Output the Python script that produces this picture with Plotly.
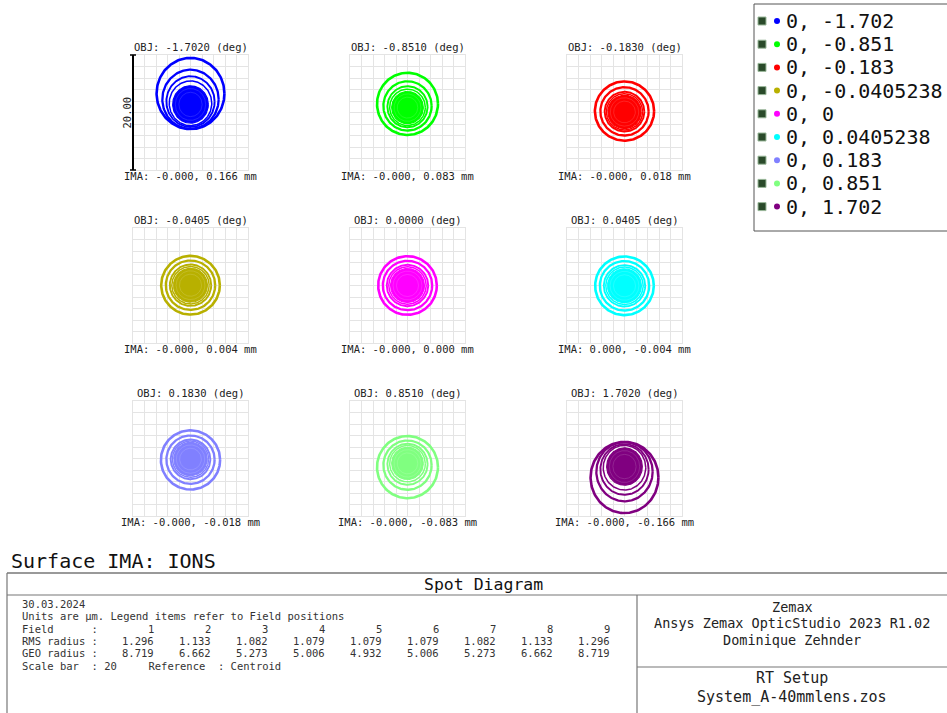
import numpy as np
import plotly.graph_objects as go

W, H = 947, 713

# ---------------- data ----------------
field_y_deg = [-1.702, -0.851, -0.183, -0.0405238, 0.0, 0.0405238, 0.183, 0.851, 1.702]
legend_labels = ["0, -1.702", "0, -0.851", "0, -0.183", "0, -0.0405238", "0, 0",
                 "0, 0.0405238", "0, 0.183", "0, 0.851", "0, 1.702"]
obj_labels = ["-1.7020", "-0.8510", "-0.1830", "-0.0405", "0.0000",
              "0.0405", "0.1830", "0.8510", "1.7020"]
ima_x = ["-0.000", "-0.000", "-0.000", "-0.000", "-0.000", "0.000", "-0.000", "-0.000", "-0.000"]
ima_y = ["0.166", "0.083", "0.018", "0.004", "0.000", "-0.004", "-0.018", "-0.083", "-0.166"]
field_colors = ["#0000ff", "#00ff00", "#ff0000", "#b8b000", "#ff00ff",
                "#00ffff", "#8080ff", "#80ff80", "#800080"]
field_numbers = ["1", "2", "3", "4", "5", "6", "7", "8", "9"]
rms_radius = ["1.296", "1.133", "1.082", "1.079", "1.079", "1.079", "1.082", "1.133", "1.296"]
geo_radius = ["8.719", "6.662", "5.273", "5.006", "4.932", "5.006", "5.273", "6.662", "8.719"]
scale_bar_um = 20

# spot ring radii (um), outer -> inner (last entry = dense core)
ring_radii = [
    [5.9, 4.9, 4.2, 3.7, 3.1],
    [5.3, 4.2, 3.5, 3.1, 2.75],
    [5.15, 4.2, 3.45, 3.15, 2.9],
    [5.1, 4.3, 3.6, 3.25, 2.95],
    [5.1, 4.3, 3.6, 3.25, 2.95],
    [5.1, 4.3, 3.6, 3.25, 2.95],
    [5.15, 4.2, 3.45, 3.15, 2.9],
    [5.3, 4.2, 3.5, 3.1, 2.75],
    [5.9, 4.9, 4.2, 3.7, 3.1],
]
# vertical centre of each ring relative to the chief ray (um)
ring_y_center = [
    [3.3, 2.3, 1.9, 1.6, 1.4],
    [1.5, 1.15, 1.0, 0.9, 0.85],
    [0.25, 0.2, 0.15, 0.12, 0.1],
    [0.05, 0.05, 0.05, 0.05, 0.05],
    [0.0, 0.0, 0.0, 0.0, 0.0],
    [-0.05, -0.05, -0.05, -0.05, -0.05],
    [-0.25, -0.2, -0.15, -0.12, -0.1],
    [-1.5, -1.15, -1.0, -0.9, -0.85],
    [-3.3, -2.3, -1.9, -1.6, -1.4],
]
ring_y_stretch = [1.05, 1.02, 1.0, 1.0, 1.0, 1.0, 1.0, 1.02, 1.05]

# ---------------- layout helpers ----------------
def px(x):
    return x / W

def py(y):
    return 1 - y / H

FONT = "DejaVu Sans Mono"
col_left = [133, 350, 567]
row_top = [55, 228, 401]
SZ = 115
ring_widths = [2.6, 2.3, 1.9, 1.5]
GRID = "#e4e4e4"

fig = go.Figure()
annotations = []
shapes = []
t = np.linspace(0, 2 * np.pi, 181)
half = scale_bar_um / 2

for i in range(9):
    r, c = divmod(i, 3)
    ax = "" if i == 0 else str(i + 1)
    xa, ya = "x" + ax, "y" + ax
    x0, y0 = col_left[c], row_top[r]
    fig.layout["xaxis" + ax] = dict(
        domain=[px(x0), px(x0 + SZ)], range=[-half, half], anchor=ya,
        showgrid=True, gridcolor=GRID, gridwidth=1, dtick=2, tick0=0,
        zeroline=False, showticklabels=False, ticks="",
        showline=True, linecolor=GRID, mirror=True, fixedrange=True)
    fig.layout["yaxis" + ax] = dict(
        domain=[py(y0 + SZ), py(y0)], range=[-half, half], anchor=xa,
        showgrid=True, gridcolor=GRID, gridwidth=1, dtick=2, tick0=0,
        zeroline=False, showticklabels=False, ticks="",
        showline=True, linecolor=GRID, mirror=True, fixedrange=True)
    col = field_colors[i]
    radii = ring_radii[i]
    cents = ring_y_center[i]
    st = ring_y_stretch[i]
    # dense core
    fig.add_trace(go.Scatter(
        x=radii[-1] * np.cos(t), y=cents[-1] + radii[-1] * st * np.sin(t),
        mode="lines", fill="toself", fillcolor=col, line=dict(color=col, width=1.2),
        xaxis=xa, yaxis=ya, showlegend=False, hoverinfo="skip"))
    # faint inner structure of the core
    for k in (0.85, 0.65):
        fig.add_trace(go.Scatter(
            x=radii[-1] * k * np.cos(t), y=cents[-1] + radii[-1] * k * st * np.sin(t),
            mode="lines", line=dict(color="rgba(255,255,255,0.2)", width=0.7),
            xaxis=xa, yaxis=ya, showlegend=False, hoverinfo="skip"))
    # rings
    for j in range(len(radii) - 1):
        fig.add_trace(go.Scatter(
            x=radii[j] * np.cos(t), y=cents[j] + radii[j] * st * np.sin(t),
            mode="lines", line=dict(color=col, width=ring_widths[j]),
            xaxis=xa, yaxis=ya, showlegend=False, hoverinfo="skip"))
    cx = x0 + SZ / 2
    annotations.append(dict(x=px(cx), y=py(y0 - 8), xref="paper", yref="paper",
                            text=f"OBJ: {obj_labels[i]} (deg)", showarrow=False,
                            xanchor="center", yanchor="middle",
                            font=dict(family=FONT, size=10.5, color="#222")))
    annotations.append(dict(x=px(cx), y=py(y0 + SZ + 6), xref="paper", yref="paper",
                            text=f"IMA: {ima_x[i]}, {ima_y[i]} mm", showarrow=False,
                            xanchor="center", yanchor="middle",
                            font=dict(family=FONT, size=10.5, color="#222")))

# scale bar on first panel
sb_x = col_left[0]
shapes.append(dict(type="line", xref="paper", yref="paper", x0=px(sb_x), x1=px(sb_x),
                   y0=py(row_top[0]), y1=py(row_top[0] + SZ), line=dict(color="black", width=2)))
for yy in (row_top[0], row_top[0] + SZ):
    shapes.append(dict(type="line", xref="paper", yref="paper", x0=px(sb_x - 3), x1=px(sb_x + 3),
                       y0=py(yy), y1=py(yy), line=dict(color="black", width=1.5)))
annotations.append(dict(x=px(sb_x - 7), y=py(row_top[0] + SZ / 2), xref="paper", yref="paper",
                        text=f"{scale_bar_um:.2f}", textangle=-90, showarrow=False,
                        xanchor="center", yanchor="middle",
                        font=dict(family=FONT, size=10.5, color="#222")))

# ---------------- legend (drawn) ----------------
shapes.append(dict(type="rect", xref="paper", yref="paper", x0=px(754), x1=px(952),
                   y0=py(231), y1=py(4), line=dict(color="#555", width=1)))
fig.layout["xaxis10"] = dict(domain=[0, 1], range=[0, W], visible=False, anchor="y10", fixedrange=True)
fig.layout["yaxis10"] = dict(domain=[0, 1], range=[H, 0], visible=False, anchor="x10", fixedrange=True)
leg_y = [21 + 23.2 * k for k in range(9)]
fig.add_trace(go.Scatter(x=[762] * 9, y=leg_y, mode="markers", xaxis="x10", yaxis="y10",
                         marker=dict(symbol="square", size=8, color="#2a4a2a",
                                     line=dict(color="#9ab89a", width=1)),
                         showlegend=False, hoverinfo="skip"))
fig.add_trace(go.Scatter(x=[777] * 9, y=leg_y, mode="markers", xaxis="x10", yaxis="y10",
                         marker=dict(symbol="circle", size=6, color=field_colors),
                         showlegend=False, hoverinfo="skip"))
for k in range(9):
    annotations.append(dict(x=px(784), y=py(leg_y[k]), xref="paper", yref="paper",
                            text=legend_labels[k], showarrow=False,
                            xanchor="left", yanchor="middle",
                            font=dict(family=FONT, size=20, color="#111")))

# ---------------- bottom info block ----------------
annotations.append(dict(x=px(9), y=py(561), xref="paper", yref="paper", text="Surface IMA: IONS",
                        showarrow=False, xanchor="left", yanchor="middle",
                        font=dict(family=FONT, size=20, color="#111")))
LC = "#777"
shapes += [
    dict(type="line", xref="paper", yref="paper", x0=px(7), x1=px(947), y0=py(573), y1=py(573),
         line=dict(color=LC, width=1.5)),
    dict(type="line", xref="paper", yref="paper", x0=px(7), x1=px(947), y0=py(595), y1=py(595),
         line=dict(color=LC, width=1.2)),
    dict(type="line", xref="paper", yref="paper", x0=px(7), x1=px(7), y0=py(573), y1=py(713),
         line=dict(color=LC, width=1.2)),
    dict(type="line", xref="paper", yref="paper", x0=px(637), x1=px(637), y0=py(595), y1=py(713),
         line=dict(color=LC, width=1.2)),
    dict(type="line", xref="paper", yref="paper", x0=px(637), x1=px(947), y0=py(667), y1=py(667),
         line=dict(color=LC, width=1.2)),
]
annotations.append(dict(x=px(483), y=py(584), xref="paper", yref="paper", text="Spot Diagram",
                        showarrow=False, xanchor="center", yanchor="middle",
                        font=dict(family=FONT, size=16.5, color="#111")))

TS = 10.5
def tline(x, y, s, anchor="left"):
    annotations.append(dict(x=px(x), y=py(y), xref="paper", yref="paper", text=s,
                            showarrow=False, xanchor=anchor, yanchor="middle",
                            font=dict(family=FONT, size=TS, color="#333")))

tline(20, 604, "30.03.2024")
tline(20, 616, "Units are \u00b5m. Legend items refer to Field positions")
tline(20, 629, "Field      :")
tline(20, 641, "RMS radius :")
tline(20, 653, "GEO radius :")
tline(20, 666, "Scale bar  : " + str(scale_bar_um) + "     Reference  : Centroid")
col_right = [156 + 57 * k for k in range(9)]
for k in range(9):
    tline(col_right[k], 629, field_numbers[k], "right")
    tline(col_right[k], 641, rms_radius[k], "right")
    tline(col_right[k], 653, geo_radius[k], "right")

def rline(y, s, size):
    annotations.append(dict(x=px(792), y=py(y), xref="paper", yref="paper", text=s,
                            showarrow=False, xanchor="center", yanchor="middle",
                            font=dict(family=FONT, size=size, color="#222")))

rline(607, "Zemax", 13.5)
rline(623, "Ansys Zemax OpticStudio 2023 R1.02", 13.5)
rline(640, "Dominique Zehnder", 13.5)
rline(678, "RT Setup", 15)
rline(697, "System_A-40mmlens.zos", 15)

fig.update_layout(
    width=W, height=H, margin=dict(l=0, r=0, t=0, b=0),
    paper_bgcolor="white", plot_bgcolor="rgba(0,0,0,0)",
    showlegend=False, annotations=annotations, shapes=shapes,
)
fig.write_html("out.html")
